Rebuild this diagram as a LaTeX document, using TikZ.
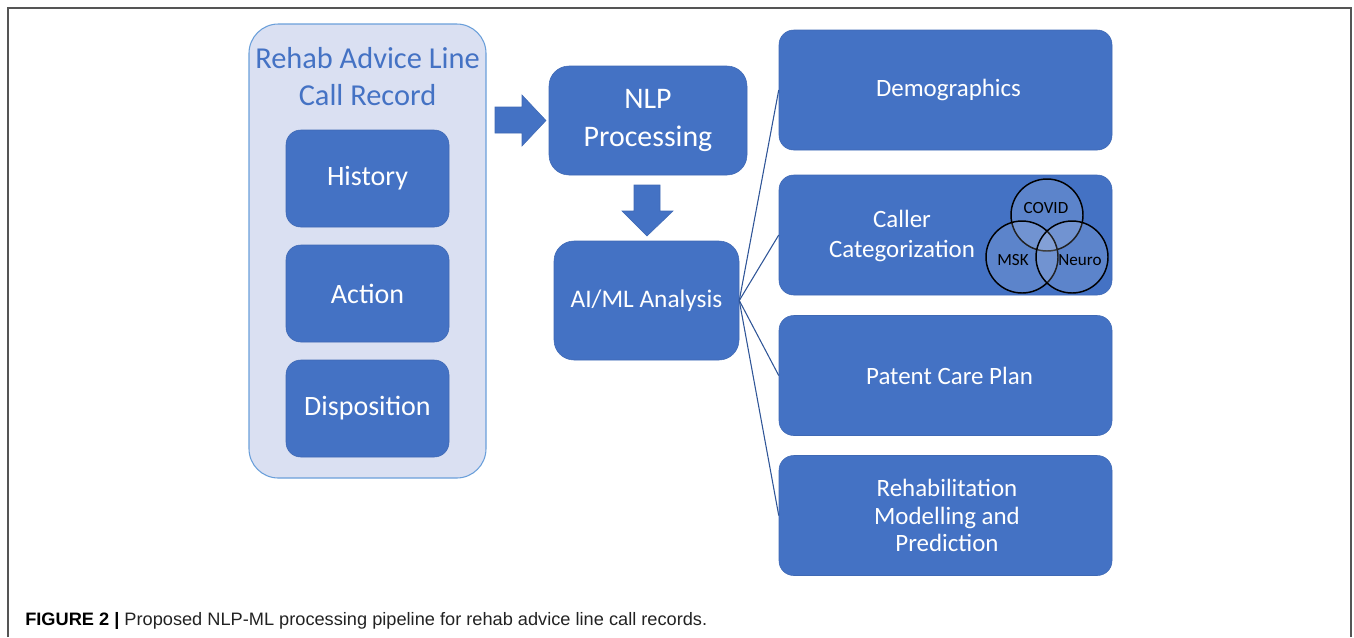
\documentclass[tikz,border=0pt]{standalone}
\usepackage{fontspec}
\usepackage{graphicx}
\setmainfont{Carlito}
\newfontfamily\capfont{Liberation Sans}
\definecolor{boxblue}{HTML}{4472C4}
\definecolor{panelfill}{HTML}{DAE0F2}
\definecolor{paneledge}{HTML}{6A9FDA}
\definecolor{linkblue}{HTML}{2F5597}
\definecolor{framegray}{HTML}{555555}
\definecolor{captext}{HTML}{222222}
\tikzset{
  bluebox/.style={draw=boxblue!92!black, line width=0.4pt, fill=boxblue, text=white,
    rounded corners=11pt, align=center, inner sep=0pt},
  sidebox/.style={bluebox, minimum width=122.25pt, minimum height=72.75pt,
    font=\fontsize{21}{25}\selectfont},
  resultbox/.style={bluebox, minimum width=249.75pt, minimum height=90pt,
    font=\fontsize{18.7}{20.5}\selectfont},
  blockarrow/.style={fill=boxblue, draw=boxblue!92!black, line width=0.4pt},
  linkline/.style={draw=linkblue, line width=0.8pt},
  venn/.style={circle, draw=black, line width=1.1pt, fill=white, fill opacity=0.13,
    minimum size=54pt, inner sep=0pt},
  vennlabel/.style={text=black, font=\fontsize{12.8}{14}\selectfont, inner sep=0pt}
}
\begin{document}
\begin{tikzpicture}[x=0.75pt, y=-0.75pt]
  \useasboundingbox (0,0) rectangle (1354,637);
  % open frame around the figure
  \draw[framegray, line width=0.8pt] (8,637) -- (8,8) -- (1351,8) -- (1351,637);

  % call record panel
  \node[draw=paneledge, line width=0.8pt, fill=panelfill, rounded corners=22pt,
        minimum width=177.75pt, minimum height=340.5pt] (panel) at (367.5,251) {};
  \node[text=boxblue, align=center, font=\fontsize{22.8}{27.8}\selectfont] (title)
        at (367.5,77) {Rehab Advice Line\\Call Record};
  \node[sidebox] (history) at (367.5,178.5) {History};
  \node[sidebox] (action) at (367.5,293.5) {Action};
  \node[sidebox] (dispo) at (367.5,408.5) {Disposition};

  % processing stages
  \node[bluebox, rounded corners=15pt, minimum width=148.5pt, minimum height=81.75pt,
        font=\fontsize{22.4}{28.5}\selectfont] (nlp) at (648,120.5) {NLP\\Processing};
  \node[bluebox, rounded corners=15pt, minimum width=138.75pt, minimum height=89.25pt,
        font=\fontsize{19}{23}\selectfont] (aiml) at (646.5,300.5) {AI/ML Analysis};

  % block arrows
  \draw[blockarrow] (495,107) -- (522,107) -- (522,95) -- (546,120.5) -- (522,146)
        -- (522,133) -- (495,133) -- cycle;
  \draw[blockarrow] (634,185) -- (660,185) -- (660,211) -- (673,211) -- (647,236)
        -- (622,211) -- (634,211) -- cycle;

  % outputs
  \node[resultbox] (demo) at (945.5,90) {};
  \node[resultbox] (caller) at (945.5,235) {};
  \node[resultbox] (care) at (945.5,375.5) {};
  \node[resultbox] (rehab) at (945.5,515.5) {};
  \node[text=white, font=\fontsize{18.7}{20.5}\selectfont] (demotext)
        at (948.5,90) {Demographics};
  \node[text=white, align=center, font=\fontsize{18.7}{23}\selectfont] (callertext)
        at (902,236) {Caller\\Categorization};
  \node[text=white, font=\fontsize{18.7}{20.5}\selectfont] (caretext)
        at (949.5,375.5) {Patent Care Plan};
  \node[text=white, align=center, font=\fontsize{18.7}{20.5}\selectfont] (rehabtext)
        at (947,515.5) {Rehabilitation\\Modelling and\\Prediction};

  % caller categories
  \node[venn] (covid) at (1047,215) {};
  \node[venn] (msk) at (1022,257) {};
  \node[venn] (neuro) at (1072,257) {};
  \node[vennlabel] (covidlbl) at (1046,208) {COVID};
  \node[vennlabel] (msklbl) at (1013,260) {MSK};
  \node[vennlabel] (neurolbl) at (1080,260) {Neuro};

  % fan-out from the analysis stage
  \draw[linkline] (aiml.east) -- (demo.west);
  \draw[linkline] (aiml.east) -- (caller.west);
  \draw[linkline] (aiml.east) -- (care.west);
  \draw[linkline] (aiml.east) -- (rehab.west);

  % caption
  \node[anchor=base west, inner sep=0pt, text=captext,
        font=\capfont\fontsize{13.5}{16}\selectfont] (caption) at (25,625)
        {\resizebox{511.5pt}{\height}{\textbf{\color{black}FIGURE 2 |} Proposed NLP-ML processing pipeline for rehab advice line call records.}};
\end{tikzpicture}
\end{document}
